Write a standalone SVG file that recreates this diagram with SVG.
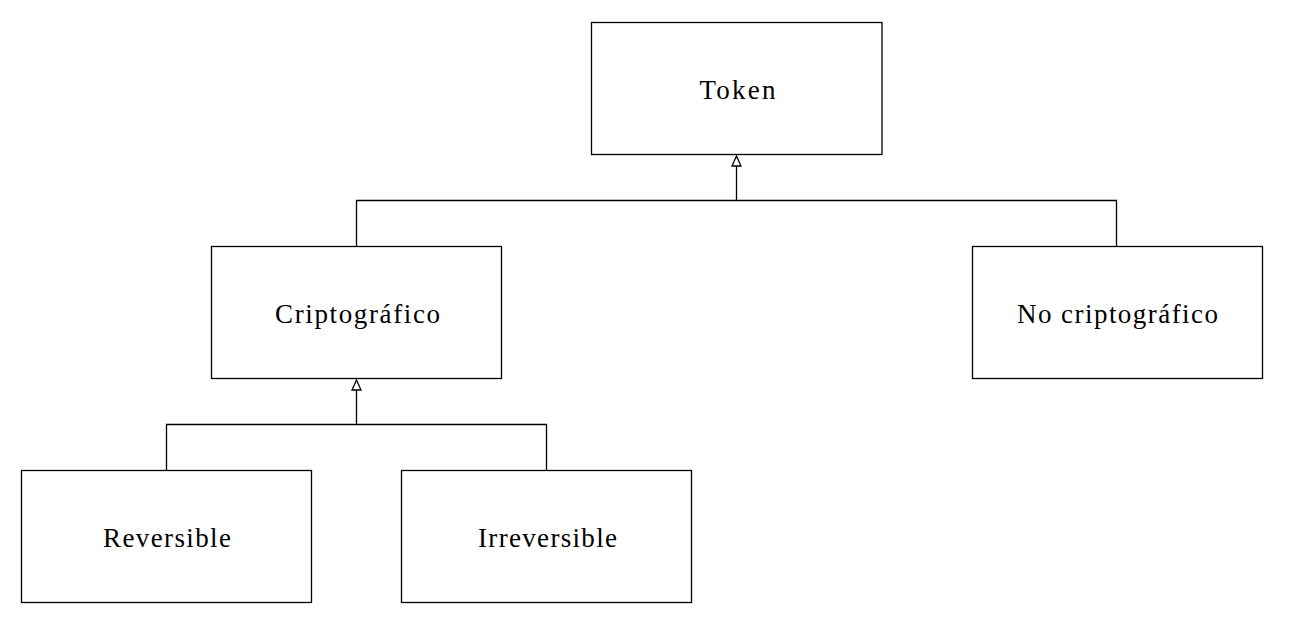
<svg xmlns="http://www.w3.org/2000/svg" width="1289" height="623" viewBox="0 0 1289 623">
<style>
rect{fill:#fff;stroke:#000;stroke-width:1.3}
text{font-family:"Liberation Serif","DejaVu Serif",serif;font-size:27px;text-anchor:middle;fill:#000}
.c{fill:none;stroke:#000;stroke-width:1.3}
.h{fill:#fff;stroke:#000;stroke-width:1.3}
</style>
<rect x="0" y="0" width="1289" height="623" style="stroke:none"/>
<g id="token"><rect x="591.5" y="22.5" width="290.5" height="132"/><text x="737.5" y="99" textLength="76" lengthAdjust="spacing">Token</text></g>
<g id="cripto"><rect x="211.5" y="246.5" width="290" height="132"/><text x="357.5" y="323" textLength="165" lengthAdjust="spacing">Criptográfico</text></g>
<g id="nocripto"><rect x="972.5" y="246.5" width="290" height="132"/><text x="1117.5" y="323" textLength="201" lengthAdjust="spacing">No criptográfico</text></g>
<g id="reversible"><rect x="21.5" y="470.5" width="290" height="132"/><text x="167" y="547" textLength="128" lengthAdjust="spacing">Reversible</text></g>
<g id="irreversible"><rect x="401.5" y="470.5" width="290" height="132"/><text x="547.5" y="547" textLength="139" lengthAdjust="spacing">Irreversible</text></g>
<g id="connectors">
<path class="c" d="M356.5 246.5V200.5H1116.5V246.5M736.5 200.5V166"/>
<path class="h" d="M736.5 156L741 166H732Z"/>
<path class="c" d="M166.5 470.5V424.5H546.5V470.5M356.5 424.5V390"/>
<path class="h" d="M356.5 380L361 390H352Z"/>
</g>
</svg>
